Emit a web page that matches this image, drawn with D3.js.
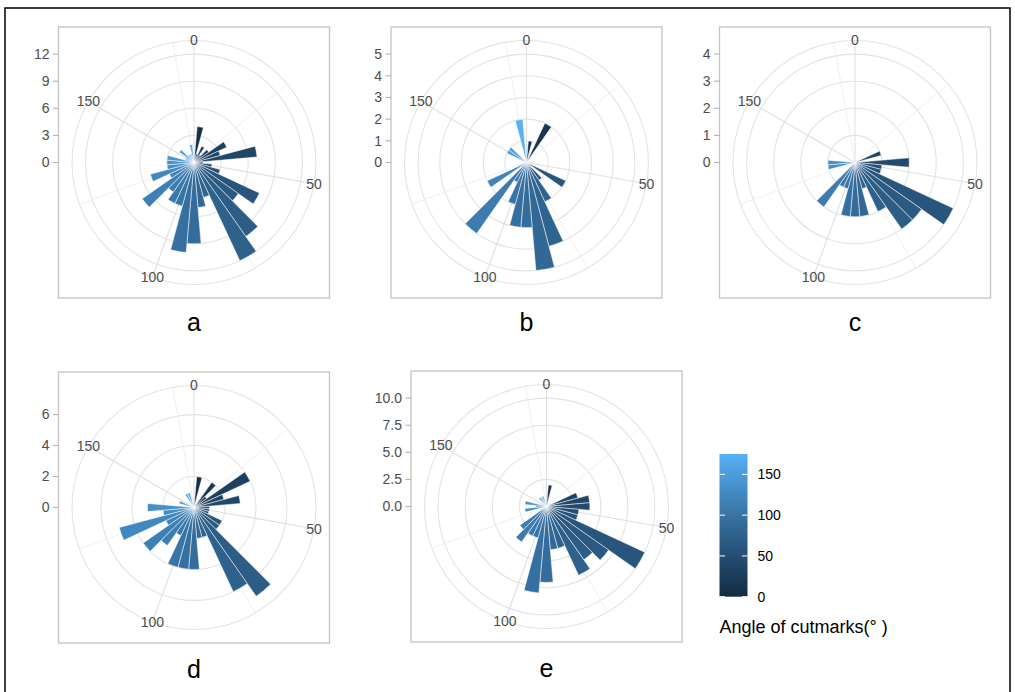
<!DOCTYPE html>
<meta charset="utf-8">
<title>Angle of cutmarks</title>
<script src="https://d3js.org/d3.v7.min.js"></script>
<style>
  body { margin: 0; background: #fff; }
  svg { font-family: "Liberation Sans", Arial, sans-serif; }
</style>
<body>
<div id="viz"></div>
<script>
// bin centres (degrees) of the cutmark angle histogram, 5 degree bins
const binCenters = [0, 5, 10, 15, 20, 25, 30, 35, 40, 45, 50, 55, 60, 65, 70, 75, 80, 85,
                    90, 95, 100, 105, 110, 115, 120, 125, 130, 135, 140, 145, 150, 155, 160, 165, 170, 175];

// counts per bin for each sample
const countsA = [0, 4, 1, 2, 1, 2, 4, 3, 7, 1, 2, 3, 8, 6, 10, 12, 4, 5,
                 9, 10, 5, 5, 4, 7, 3, 5, 3, 3, 3, 1, 1, 2, 1, 1, 1, 2];
const countsB = [0, 1, 0, 2, 0, 0, 0, 0, 0, 0, 0, 0, 2, 0, 1, 2, 4, 5,
                 3, 3, 2, 1, 4, 0, 2, 0, 0, 0, 0, 0, 1, 1, 0, 0, 0, 2];
const countsC = [0, 0, 0, 0, 0, 0, 0, 1, 0, 2, 1, 1, 4, 3, 3, 2, 1, 2,
                 2, 2, 1, 1, 2, 0, 0, 0, 1, 1, 0, 0, 0, 0, 0, 0, 0, 0];
const countsD = [0, 2, 0, 0, 2, 1, 4, 2, 3, 1, 1, 1, 2, 2, 7, 6, 2, 2,
                 4, 4, 4, 2, 3, 4, 2, 5, 2, 3, 0, 1, 0, 0, 0, 1, 1, 0];
const countsE = [0, 2, 0, 0, 0, 0, 0, 3, 4, 4, 3, 3, 10, 7, 6, 7, 4, 4,
                 7, 8, 3, 3, 4, 3, 0, 0, 2, 1, 2, 0, 0, 0, 1, 1, 1, 0];

// radial axis breaks and limits
const ticksA = [0, 3, 6, 9, 12];
const ticksB = [0, 1, 2, 3, 4, 5];
const ticksC = [0, 1, 2, 3, 4];
const ticksD = [0, 2, 4, 6];
const ticksE = [0, 2.5, 5, 7.5, 10];
const rTops = [12, 5, 4, 7, 10];

const thetaMajor = [0, 50, 100, 150];
const thetaMinor = [25, 75, 125, 175];
const legendTicks = [0, 50, 100, 150];
const panelNames = ["a", "b", "c", "d", "e"];
const legendTitle = "Angle of cutmarks(° )";

const width = 1015, height = 692;
const svg = d3.select("#viz").append("svg")
  .attr("width", width).attr("height", height);

// outer frame
svg.append("rect")
  .attr("x", 5).attr("y", 8).attr("width", 1005).attr("height", 700)
  .attr("fill", "none").attr("stroke", "#000").attr("stroke-width", 1.5);

const color = d3.scaleLinear().domain([0, 175])
  .range(["#132B43", "#56B1F7"]).interpolate(d3.interpolateLab);

const theta = d3.scaleLinear().domain([0, 180]).range([0, 2 * Math.PI]);

const size = 271;
const panels = [
  {counts: countsA, ticks: ticksA, left: 58.5, top: 27, fmt: d3.format("d")},
  {counts: countsB, ticks: ticksB, left: 391, top: 27, fmt: d3.format("d")},
  {counts: countsC, ticks: ticksC, left: 719.5, top: 27, fmt: d3.format("d")},
  {counts: countsD, ticks: ticksD, left: 58.5, top: 372, fmt: d3.format("d")},
  {counts: countsE, ticks: ticksE, left: 411, top: 371, fmt: d3.format(".1f")}
];

panels.forEach((p, i) => {
  const g = svg.append("g").attr("transform", `translate(${p.left},${p.top})`);
  const cx = size / 2, cy = size / 2;
  const outer = 0.45 * size;
  const r = d3.scaleLinear().domain([0, rTops[i]]).range([0, 0.4 * size]);

  g.append("rect").attr("width", size).attr("height", size)
    .attr("fill", "#fff").attr("stroke", "#c4c4c4").attr("stroke-width", 1.3);

  const pg = g.append("g").attr("transform", `translate(${cx},${cy})`);

  // grid circles
  pg.selectAll("circle.grid")
    .data(p.ticks.filter(d => d > 0).map(d => r(d)).concat([outer]))
    .join("circle")
    .attr("r", d => d)
    .attr("fill", "none").attr("stroke", "#e3e3e3").attr("stroke-width", 1.1);

  // spokes
  pg.selectAll("line.minor").data(thetaMinor).join("line")
    .attr("x2", d => outer * Math.sin(theta(d)))
    .attr("y2", d => -outer * Math.cos(theta(d)))
    .attr("stroke", "#ececec").attr("stroke-width", 0.8);
  pg.selectAll("line.major").data(thetaMajor).join("line")
    .attr("x2", d => outer * Math.sin(theta(d)))
    .attr("y2", d => -outer * Math.cos(theta(d)))
    .attr("stroke", "#e0e0e0").attr("stroke-width", 1.1);

  // bars
  const arc = d3.arc()
    .innerRadius(0)
    .outerRadius(d => r(d.n))
    .startAngle(d => theta(d.a - 2.5))
    .endAngle(d => theta(d.a + 2.5));
  pg.selectAll("path.bar")
    .data(binCenters.map((a, k) => ({a, n: p.counts[k]})).filter(d => d.n > 0))
    .join("path")
    .attr("d", arc)
    .attr("fill", d => color(d.a))
    .attr("stroke", "#fff").attr("stroke-width", 0.5);

  // theta labels
  pg.selectAll("text.theta").data(thetaMajor).join("text")
    .attr("x", d => outer * Math.sin(theta(d)))
    .attr("y", d => -outer * Math.cos(theta(d)))
    .attr("dy", "0.35em")
    .attr("text-anchor", "middle")
    .attr("font-size", 14).attr("fill", "#4d4d4d")
    .text(d => d);

  // radial axis at the left
  const ax = g.append("g");
  ax.selectAll("line").data(p.ticks).join("line")
    .attr("x1", -5.5).attr("x2", 0)
    .attr("y1", d => cy - r(d)).attr("y2", d => cy - r(d))
    .attr("stroke", "#b3b3b3").attr("stroke-width", 1.1);
  ax.selectAll("text").data(p.ticks).join("text")
    .attr("x", -9).attr("y", d => cy - r(d)).attr("dy", "0.35em")
    .attr("text-anchor", "end").attr("font-size", 14).attr("fill", "#4d4d4d")
    .text(d => p.fmt(d));

  // panel caption
  g.append("text")
    .attr("x", cx).attr("y", size + (i < 3 ? 33 : 35))
    .attr("text-anchor", "middle").attr("font-size", 25).attr("fill", "#000")
    .text(panelNames[i]);
});

// colour legend
const lg = svg.append("g").attr("transform", "translate(719.5,0)");
const barW = 28;
const ly = d3.scaleLinear().domain([0, 175]).range([596.7, 454]);
const defs = svg.append("defs");
const grad = defs.append("linearGradient").attr("id", "grad")
  .attr("x1", 0).attr("y1", 1).attr("x2", 0).attr("y2", 0);
d3.range(0, 1.0001, 0.1).forEach(t => {
  grad.append("stop").attr("offset", t).attr("stop-color", color(t * 175));
});
lg.append("rect").attr("x", 0).attr("y", ly(175)).attr("width", barW)
  .attr("height", ly(0) - ly(175)).attr("fill", "url(#grad)");
legendTicks.forEach(v => {
  lg.append("line").attr("x1", 0).attr("x2", 5.5).attr("y1", ly(v)).attr("y2", ly(v))
    .attr("stroke", "#fff").attr("stroke-width", 1);
  lg.append("line").attr("x1", barW - 5.5).attr("x2", barW).attr("y1", ly(v)).attr("y2", ly(v))
    .attr("stroke", "#fff").attr("stroke-width", 1);
});
lg.selectAll("text.tick").data(legendTicks).join("text")
  .attr("x", barW + 10).attr("y", d => ly(d)).attr("dy", "0.35em")
  .attr("font-size", 14).attr("fill", "#000").text(d => d);
lg.append("text").attr("x", 0).attr("y", 633)
  .attr("font-size", 18).attr("fill", "#000").text(legendTitle);
</script>
</body>
